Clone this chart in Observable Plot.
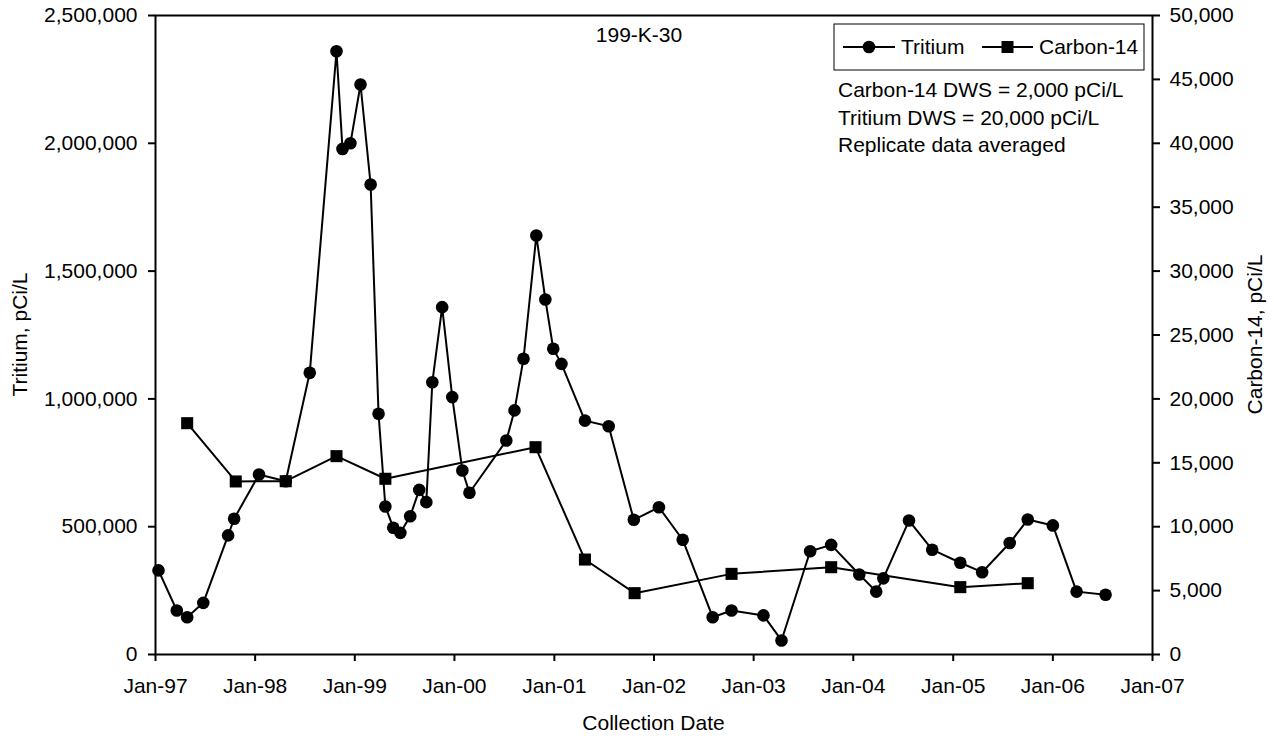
<!DOCTYPE html>
<html><head><meta charset="utf-8">
<script src="https://cdn.jsdelivr.net/npm/d3@7"></script>
<script src="https://cdn.jsdelivr.net/npm/@observablehq/plot@0.6"></script>
<style>body{margin:0;background:#fff;font-family:"Liberation Sans",Arial,sans-serif}</style>
</head><body><div id="chart"></div>
<script>
const tritiumDates = ["1997-01-12","1997-03-20","1997-04-27","1997-06-25","1997-09-24","1997-10-16","1998-01-15","1998-04-23","1998-07-20","1998-10-26","1998-11-17","1998-12-16","1999-01-22","1999-02-28","1999-03-29","1999-04-23","1999-05-22","1999-06-17","1999-07-23","1999-08-25","1999-09-20","1999-10-12","1999-11-17","1999-12-24","2000-01-30","2000-02-25","2000-07-09","2000-08-08","2000-09-10","2000-10-27","2000-11-29","2000-12-28","2001-01-27","2001-04-23","2001-07-19","2001-10-19","2002-01-19","2002-04-16","2002-08-04","2002-10-12","2003-02-06","2003-04-13","2003-07-27","2003-10-12","2004-01-23","2004-03-25","2004-04-20","2004-07-23","2004-10-16","2005-01-27","2005-04-17","2005-07-27","2005-10-01","2006-01-01","2006-03-29","2006-07-13"];
const tritiumValues = [329000,172000,146000,202000,466000,531000,704000,678000,1102000,2360000,1978000,2000000,2230000,1839000,942000,579000,496000,476000,541000,644000,596000,1065000,1359000,1007000,720000,633000,837000,955000,1157000,1639000,1389000,1196000,1137000,915000,893000,527000,576000,449000,146000,172000,153000,55000,404000,429000,313000,246000,298000,524000,410000,359000,322000,436000,528000,505000,246000,234000];
const c14Dates = ["1997-04-27","1997-10-22","1998-04-23","1998-10-26","1999-04-23","2000-10-24","2001-04-23","2001-10-22","2002-10-12","2003-10-12","2005-01-27","2005-10-01"];
const c14Values = [18100,13540,13560,15520,13750,16220,7430,4800,6310,6830,5270,5580];
const leftTicks = [0,500000,1000000,1500000,2000000,2500000];
const rightTicks = [0,5000,10000,15000,20000,25000,30000,35000,40000,45000,50000];
const xTicks = ["1997-01-01","1998-01-01","1999-01-01","2000-01-01","2001-01-01","2002-01-01","2003-01-01","2004-01-01","2005-01-01","2006-01-01","2007-01-01"];
const seriesNames = ["Tritium","Carbon-14"];
const title = "199-K-30";
const notes = ["Carbon-14 DWS = 2,000 pCi/L","Tritium DWS = 20,000 pCi/L","Replicate data averaged"];
const ratio = 2500000 / 50000;

const tritium = tritiumDates.map((d,i)=>({date:new Date(d), value:tritiumValues[i]}));
const c14 = c14Dates.map((d,i)=>({date:new Date(d), value:c14Values[i]}));
const fmt = d3.format(",");
const FONT = "Liberation Sans, Arial, sans-serif";

const plot = Plot.plot({
  width:1274, height:738, marginLeft:155, marginRight:122, marginTop:15, marginBottom:84,
  style:{fontFamily:FONT, fontSize:"21px", color:"#000", background:"#fff", overflow:"visible"},
  x:{type:"utc", domain:[new Date(xTicks[0]), new Date(xTicks[xTicks.length-1])]},
  y:{domain:[0,2500000]},
  marks:[
    Plot.axisX({ticks:xTicks.map(d=>new Date(d)), tickFormat:d3.utcFormat("%b-%y"), tickSize:7, tickPadding:17, strokeWidth:2, label:null}),
    Plot.axisY({ticks:leftTicks, tickFormat:fmt, tickSize:7, tickPadding:11, strokeWidth:2, label:null}),
    Plot.axisY({anchor:"right", ticks:rightTicks.map(v=>v*ratio), tickFormat:v=>fmt(Math.round(v/ratio)), tickSize:7, tickPadding:10, strokeWidth:2, label:null}),
    Plot.frame({stroke:"#000", strokeWidth:2}),
    Plot.line(tritium,{x:"date", y:"value", stroke:"#000", strokeWidth:2}),
    Plot.line(c14,{x:"date", y:d=>d.value*ratio, stroke:"#000", strokeWidth:2}),
    Plot.dot(tritium,{x:"date", y:"value", symbol:"circle", r:6.3, fill:"#000", stroke:"none"}),
    Plot.dot(c14,{x:"date", y:d=>d.value*ratio, symbol:"square", r:6.8, fill:"#000", stroke:"none"})
  ]
});
document.getElementById("chart").appendChild(plot);

const svg = d3.select(plot);
function txt(x,y,s,anchor,rot){
  const t = svg.append("text").attr("x",x).attr("y",y).attr("dy","0.35em")
    .attr("text-anchor",anchor||"start").attr("font-family",FONT).attr("font-size",21).attr("fill","#000").text(s);
  if (rot) t.attr("transform",`rotate(${rot},${x},${y})`);
  return t;
}
txt(20,334.5,"Tritium, pCi/L","middle",-90);
txt(1255,334.5,"Carbon-14, pCi/L","middle",-90);
txt(653.5,723,"Collection Date","middle");
txt(639,35,title,"middle");
notes.forEach((n,i)=>txt(838,90+i*27.5,n,"start"));

// legend
svg.append("rect").attr("x",834).attr("y",24).attr("width",310).attr("height",46).attr("fill","#fff").attr("stroke","#000").attr("stroke-width",1);
const ly = 47;
svg.append("line").attr("x1",843).attr("x2",895).attr("y1",ly).attr("y2",ly).attr("stroke","#000").attr("stroke-width",2);
svg.append("circle").attr("cx",869).attr("cy",ly).attr("r",6.3).attr("fill","#000");
txt(901,ly,seriesNames[0],"start");
svg.append("line").attr("x1",982).attr("x2",1033).attr("y1",ly).attr("y2",ly).attr("stroke","#000").attr("stroke-width",2);
svg.append("rect").attr("x",1001.5).attr("y",ly-6).attr("width",12).attr("height",12).attr("fill","#000");
txt(1039,ly,seriesNames[1],"start");
</script>
</body></html>
